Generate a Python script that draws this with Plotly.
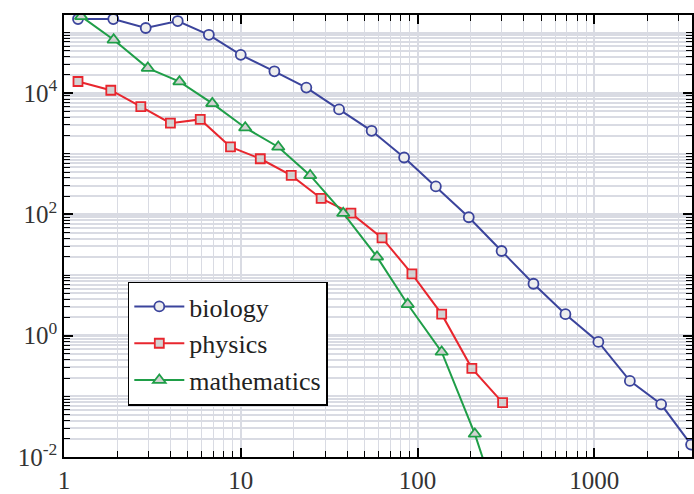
import plotly.graph_objects as go

# ---- data ----
bio_x = [1.2, 1.9, 2.9, 4.4, 6.6, 10, 15.5, 23.5, 36, 55, 84, 127, 195, 299, 453, 687, 1055, 1590, 2390, 3530]
bio_y = [1.67e5, 1.67e5, 1.19e5, 1.55e5, 9.2e4, 4.3e4, 2.3e4, 1.24e4, 5.4e3, 2.4e3, 870, 290, 90, 25, 7.2, 2.27, 0.79, 0.18, 0.074, 0.016]

phy_x = [1.2, 1.84, 2.72, 4.0, 5.9, 8.75, 12.9, 19.3, 28.5, 42, 63, 93, 137, 203, 303]
phy_y = [1.56e4, 1.12e4, 6.0e3, 3.2e3, 3.7e3, 1.3e3, 830, 440, 184, 105, 41, 10.5, 2.27, 0.29, 0.079]

mat_x = [1.25, 1.91, 2.98, 4.5, 6.9, 10.6, 16.3, 24.7, 38, 59, 88, 137, 211, 320]
mat_y = [1.85e5, 7.6e4, 2.6e4, 1.55e4, 6.8e3, 2.7e3, 1.3e3, 440, 105, 20, 3.3, 0.54, 0.024, 6e-4]

series_names = ["biology", "physics", "mathematics"]
series_colors = ["#3b449c", "#e8262e", "#1f9e48"]

y_label_vals = [1e-2, 1e0, 1e2, 1e4]
y_label_text = ["10<sup>-2</sup>", "10<sup>0</sup>", "10<sup>2</sup>", "10<sup>4</sup>"]
x_label_vals = [1, 10, 100, 1000]
x_label_text = ["1", "10", "100", "1000"]

FONT = "Liberation Serif"
GRID = "#d9dbe3"

fig = go.Figure()
data = [(bio_x, bio_y), (phy_x, phy_y), (mat_x, mat_y)]
fills = ["#eeeeee", "#d2d2d2", "#d2d2d2"]
sizes = [10, 9, 11]
symbols = ["circle", "square", "triangle-up"]
for (xs, ys), name, col, sym, fc, sz in zip(data, series_names, series_colors, symbols, fills, sizes):
    fig.add_trace(go.Scatter(
        x=xs, y=ys, name=name, mode="lines+markers", legendgroup=name,
        line=dict(color=col, width=2),
        marker=dict(symbol=sym, size=sz, color=fc, line=dict(color=col, width=1.8)),
    ))

# axis tick positions: labelled decades as major, other decades and 2..9 as minor
y_minor = [m * 10.0 ** k for k in range(-2, 6) for m in range(1, 10)
           if not (m == 1 and 10.0 ** k in y_label_vals)]
x_minor = [m * 10.0 ** k for k in range(0, 4) for m in range(2, 10)]

fig.update_xaxes(
    type="log", range=[0, 3.553],
    tickmode="array", tickvals=x_label_vals, ticktext=x_label_text,
    ticks="inside", ticklen=9, tickwidth=1.5, tickcolor="black",
    showgrid=True, gridcolor=GRID, gridwidth=2,
    minor=dict(tickmode="array", tickvals=x_minor, ticks="inside", ticklen=6,
               tickwidth=1.3, tickcolor="black", showgrid=True, gridcolor=GRID, gridwidth=1.3),
    showline=True, linecolor="black", linewidth=1.5, mirror="ticks",
    tickfont=dict(family=FONT, size=25, color="#333"),
    zeroline=False,
)
fig.update_yaxes(
    type="log", range=[-2, 5.29],
    tickmode="array", tickvals=y_label_vals, ticktext=y_label_text,
    ticks="inside", ticklen=9, tickwidth=1.5, tickcolor="black",
    showgrid=True, gridcolor=GRID, gridwidth=2.5,
    minor=dict(tickmode="array", tickvals=y_minor, ticks="inside", ticklen=6,
               tickwidth=1.3, tickcolor="black", showgrid=True, gridcolor=GRID, gridwidth=1.5),
    showline=True, linecolor="black", linewidth=1.5, mirror="ticks",
    tickfont=dict(family=FONT, size=25, color="#333"),
    zeroline=False,
)

fig.update_layout(
    width=694, height=494,
    margin=dict(l=64, r=0, t=15, b=31),
    paper_bgcolor="white", plot_bgcolor="white",
    showlegend=True,
    legend=dict(
        x=0.1016, y=0.397, xanchor="left", yanchor="top",
        bgcolor="white", bordercolor="black", borderwidth=1.5,
        font=dict(family=FONT, size=26, color="#222"),
        itemwidth=50, tracegroupgap=0, traceorder="grouped",
    ),
)

fig.write_html("out.html")
